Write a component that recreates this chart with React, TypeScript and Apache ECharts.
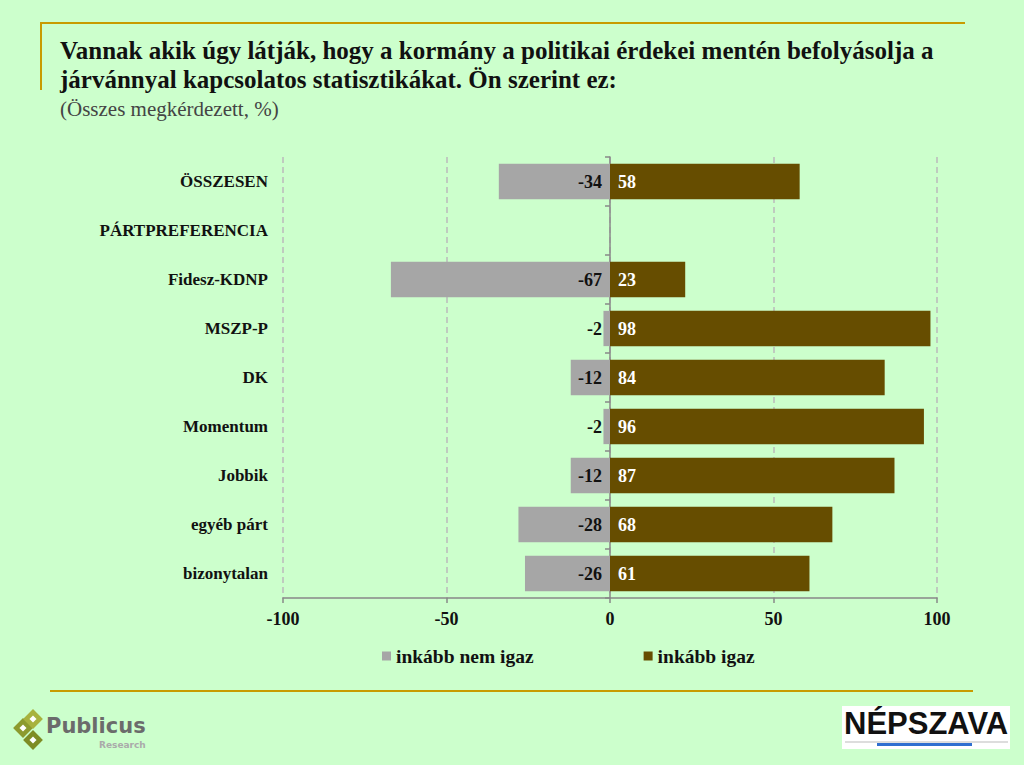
import React, { useEffect, useRef } from "react";
import * as echarts from "echarts";

const categories = [
  "ÖSSZESEN",
  "PÁRTPREFERENCIA",
  "Fidesz-KDNP",
  "MSZP-P",
  "DK",
  "Momentum",
  "Jobbik",
  "egyéb párt",
  "bizonytalan",
];
const notTrue: (number | string)[] = [-34, "-", -67, -2, -12, -2, -12, -28, -26];
const isTrue: (number | string)[] = [58, "-", 23, 98, 84, 96, 87, 68, 61];
const seriesNames = ["inkább nem igaz", "inkább igaz"];
const xTicks = { min: -100, max: 100, interval: 50 };

const SERIF = '"Liberation Serif", "DejaVu Serif", serif';

export default function App() {
  const ref = useRef<HTMLDivElement>(null);
  useEffect(() => {
    const chart = echarts.init(ref.current!, null, { renderer: "svg" });
    chart.setOption({
      animation: false,
      backgroundColor: "#CCFFCC",
      textStyle: { fontFamily: SERIF },
      grid: { left: 283, right: 87, top: 157, bottom: 167, containLabel: false },
      legend: {
        bottom: 94,
        left: 377,
        itemGap: 110,
        itemWidth: 9,
        itemHeight: 9,
        icon: "rect",
        textStyle: { fontFamily: SERIF, fontSize: 19.5, fontWeight: "bold", color: "#111" },
        data: seriesNames,
      },
      xAxis: {
        type: "value",
        min: xTicks.min,
        max: xTicks.max,
        interval: xTicks.interval,
        axisLine: { show: true, onZero: false, lineStyle: { color: "#888", width: 1.5 } },
        axisTick: { show: true, length: 5, lineStyle: { color: "#888", width: 1.5 } },
        axisLabel: { fontFamily: SERIF, fontSize: 18, fontWeight: "bold", color: "#111", margin: 12 },
        splitLine: { show: true, lineStyle: { color: "#BBBBBB", type: [6, 4], width: 1.5 } },
      },
      yAxis: [
        {
          type: "category",
          data: categories,
          inverse: true,
          axisLine: { show: false, onZero: false },
          axisTick: { show: false },
          axisLabel: { fontFamily: SERIF, fontSize: 17, fontWeight: "bold", color: "#111", margin: 15 },
        },
        {
          type: "category",
          data: categories,
          inverse: true,
          position: "left",
          axisLine: { show: true, onZero: true, lineStyle: { color: "#888", width: 1.5 } },
          axisTick: { show: true, length: 5, lineStyle: { color: "#888", width: 1.5 } },
          axisLabel: { show: false },
        },
      ],
      series: [
        {
          name: seriesNames[0],
          type: "bar",
          stack: "a",
          data: notTrue,
          barWidth: "72%",
          itemStyle: { color: "#A6A6A6" },
          label: {
            show: true,
            position: "insideRight",
            distance: 8,
            fontFamily: SERIF,
            fontSize: 18,
            fontWeight: "bold",
            color: "#111",
          },
        },
        {
          name: seriesNames[1],
          type: "bar",
          stack: "a",
          data: isTrue,
          barWidth: "72%",
          itemStyle: { color: "#664D00" },
          label: {
            show: true,
            position: "insideLeft",
            distance: 8,
            fontFamily: SERIF,
            fontSize: 18,
            fontWeight: "bold",
            color: "#FFFFFF",
          },
        },
      ],
      graphic: [
        { type: "line", shape: { x1: 40, y1: 23, x2: 965, y2: 23 }, style: { stroke: "#C89B00", lineWidth: 2 } },
        { type: "line", shape: { x1: 41, y1: 23, x2: 41, y2: 90 }, style: { stroke: "#C89B00", lineWidth: 2 } },
        { type: "line", shape: { x1: 50, y1: 691, x2: 973, y2: 691 }, style: { stroke: "#C89B00", lineWidth: 2 } },
        {
          type: "text",
          left: 60,
          top: 36,
          style: {
            text: "Vannak akik úgy látják, hogy a kormány a politikai érdekei mentén befolyásolja a\njárvánnyal kapcsolatos statisztikákat. Ön szerint ez:",
            font: `bold 25px ${SERIF}`,
            fill: "#111",
            lineHeight: 29,
          },
        },
        {
          type: "text",
          left: 60,
          top: 98,
          style: { text: "(Összes megkérdezett, %)", font: `21px ${SERIF}`, fill: "#444" },
        },
        // Publicus logo
        { type: "rect", x: 23, y: 728, rotation: Math.PI / 4, shape: { x: -7, y: -7, width: 14, height: 14 }, style: { fill: "#8C9A2E" } },
        { type: "rect", x: 33, y: 719, rotation: Math.PI / 4, shape: { x: -7, y: -7, width: 14, height: 14 }, style: { fill: "#A7B23E" } },
        { type: "rect", x: 33, y: 740, rotation: Math.PI / 4, shape: { x: -7, y: -7, width: 14, height: 14 }, style: { fill: "#7E8C24" } },
        { type: "rect", x: 23, y: 728, rotation: Math.PI / 4, shape: { x: -2.5, y: -2.5, width: 5, height: 5 }, style: { fill: "#fff" } },
        { type: "rect", x: 33, y: 719, rotation: Math.PI / 4, shape: { x: -2.5, y: -2.5, width: 5, height: 5 }, style: { fill: "#fff" } },
        { type: "rect", x: 33, y: 740, rotation: Math.PI / 4, shape: { x: -2.5, y: -2.5, width: 5, height: 5 }, style: { fill: "#fff" } },
        {
          type: "text",
          left: 46,
          top: 715,
          style: { text: "Publicus", font: 'bold 21px "DejaVu Sans", sans-serif', fill: "#6B6B6B" },
        },
        {
          type: "text",
          left: 99,
          top: 740,
          style: { text: "Research", font: 'bold 9px "DejaVu Sans", sans-serif', fill: "#AAAAAA" },
        },
        // Népszava logo
        { type: "rect", shape: { x: 842, y: 706, width: 168, height: 43 }, style: { fill: "#FFFFFF" } },
        {
          type: "text",
          left: 844,
          top: 708,
          style: { text: "NÉPSZAVA", font: 'bold 31px "Liberation Sans", Arial, sans-serif', fill: "#111" },
        },
        { type: "line", shape: { x1: 845, y1: 742, x2: 1008, y2: 742 }, style: { stroke: "#BBBBBB", lineWidth: 1 } },
        { type: "rect", shape: { x: 877, y: 743, width: 95, height: 3 }, style: { fill: "#2F6FD0" } },
      ],
    });
    return () => chart.dispose();
  }, []);
  return (
    <div
      ref={ref}
      style={{ position: "fixed", left: 0, top: 0, width: 1024, height: 765 }}
    />
  );
}
